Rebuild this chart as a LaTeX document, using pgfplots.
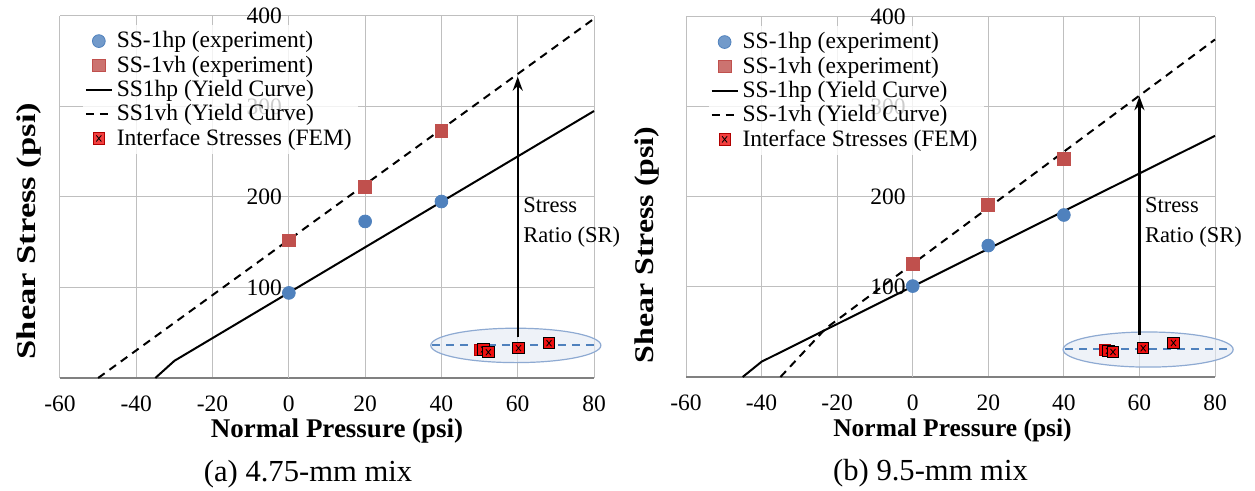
\documentclass[border=0pt]{standalone}
\usepackage{fontspec}
\setmainfont{Liberation Serif}
\usepackage{graphicx}
\usepackage{pgfplots}
\pgfplotsset{compat=1.18}
\usetikzlibrary{arrows.meta}

\definecolor{expblue}{HTML}{4F81BD}
\definecolor{expred}{HTML}{C0504D}
\definecolor{femred}{HTML}{F01010}
\definecolor{femdark}{HTML}{B00000}
\definecolor{ellline}{HTML}{8EAAD2}
\definecolor{ellfill}{HTML}{E2E9F4}
\definecolor{gridgray}{HTML}{BFBFBF}

% red square with a thin black cross (FEM points)
\pgfdeclareplotmark{sqx}{%
  \pgfpathrectangle{\pgfqpoint{-\pgfplotmarksize}{-\pgfplotmarksize}}{\pgfqpoint{2\pgfplotmarksize}{2\pgfplotmarksize}}%
  \pgfusepathqfillstroke
  \pgfsetstrokecolor{black}%
  \pgfsetlinewidth{0.4pt}%
  \pgfpathmoveto{\pgfqpoint{-0.45\pgfplotmarksize}{-0.55\pgfplotmarksize}}%
  \pgfpathlineto{\pgfqpoint{0.45\pgfplotmarksize}{0.55\pgfplotmarksize}}%
  \pgfpathmoveto{\pgfqpoint{-0.45\pgfplotmarksize}{0.55\pgfplotmarksize}}%
  \pgfpathlineto{\pgfqpoint{0.45\pgfplotmarksize}{-0.55\pgfplotmarksize}}%
  \pgfusepathqstroke}

\pgfplotsset{
  panel/.style={
    scale only axis,
    xmin=-60, xmax=80, ymin=0, ymax=400,
    xtick={-60,-40,...,80}, ytick={0,100,...,400},
    axis x line*=bottom, axis y line*=center,
    grid=major,
    major grid style={gridgray, line width=0.5pt},
    x axis line style={gray, line width=0.6pt},
    y axis line style={gridgray, line width=0.5pt},
    major tick length=0pt,
    tick label style={font=\fontsize{11.75}{13}\selectfont},
    /pgf/number format/assume math mode=true,
    xticklabel style={yshift=-5.5pt},
    clip=false,
    legend cell align=left,
    legend style={draw=none, fill=white, fill opacity=0.8, text opacity=1,
      anchor=north west, font=\fontsize{11.75}{13}\selectfont,
      row sep=-1.5pt, inner xsep=1pt, inner ysep=1pt},
  },
  expmark/.style={only marks, mark size=3.2pt},
  yc/.style={black, line width=1pt,
    legend image code/.code={\draw[##1] (0.3cm-6.5pt,0cm) -- (0.3cm+6.5pt,0cm);}},
  ycd/.style={yc, dash pattern=on 4pt off 3pt},
  fem/.style={only marks, mark=sqx, mark size=2.8pt,
    mark options={draw=femdark, fill=femred, line width=0.4pt}},
  femline/.style={forget plot, expblue, line width=0.9pt, dash pattern=on 4pt off 3pt},
  sr/.style={forget plot, black, line width=1.2pt, -{Stealth[length=7pt,width=5pt]}},
}

\begin{document}
\begin{tikzpicture}
% (a) 4.75-mm mix
\begin{axis}[panel, name=A, width=267pt, height=181pt,
    xlabel={\bfseries Normal Pressure (psi)},
    xlabel style={at={(axis description cs:0.5,0)}, anchor=base, yshift=-30pt, xshift=5pt,
      font=\fontsize{13.5}{15}\selectfont},
    legend style={at={(axis description cs:0.042,0.975)}}]
\draw[ellline, line width=0.6pt, fill=ellfill, fill opacity=0.6] (axis cs:59.5,36) ellipse [x radius=22.3, y radius=19];
\addplot[femline] coordinates {(37.5,36.5) (80,36.5)};
\addplot[sr] coordinates {(60,45) (60,333)};
\addplot[expmark, mark=*, expblue] coordinates {(0,94) (20,173) (40,195)};
\addlegendentry{SS-1hp (experiment)}
\addplot[expmark, mark=square*, expred] coordinates {(0,152) (20,211) (40,273)};
\addlegendentry{SS-1vh (experiment)}
\addplot[yc] coordinates {(-35,0) (-30,19) (80,295)};
\addlegendentry{SS1hp (Yield Curve)}
\addplot[ycd] coordinates {(-50,0) (80,397)};
\addlegendentry{SS1vh (Yield Curve)}
\addplot[fem] coordinates {(50,31) (51,31.5) (52.3,28.5) (60.2,33) (68.2,38.5)};
\addlegendentry{Interface Stresses (FEM)}
\node[anchor=west, align=left, font=\fontsize{11.25}{15}\selectfont] at (axis cs:59.6,172) {Stress\\Ratio (SR)};
\node[rotate=90, font=\fontsize{13.5}{15}\selectfont] at (axis description cs:-0.058,0.406)
  {\scalebox{1.28}[1]{\bfseries Shear Stress (psi)}};
\node[anchor=base, font=\fontsize{15.3}{17}\selectfont] at (axis description cs:0.5,0)
  [yshift=-52pt, xshift=-9.5pt] {(a) 4.75-mm mix};
\end{axis}

% (b) 9.5-mm mix
\begin{axis}[panel, xshift=313pt, yshift=0.5pt, width=264.5pt, height=180pt,
    xlabel={\bfseries Normal Pressure (psi)},
    xlabel style={at={(axis description cs:0.5,0)}, anchor=base, yshift=-30pt, xshift=1pt,
      font=\fontsize{12.75}{15}\selectfont},
    legend style={at={(axis description cs:0.042,0.975)}}]
\draw[ellline, line width=0.6pt, fill=ellfill, fill opacity=0.6] (axis cs:62.3,30.5) ellipse [x radius=22.5, y radius=19.5];
\addplot[femline] coordinates {(40.3,31) (84,31)};
\addplot[sr] coordinates {(60,47) (60,312)};
\addplot[expmark, mark=*, expblue] coordinates {(0,101) (20,146) (40,180)};
\addlegendentry{SS-1hp (experiment)}
\addplot[expmark, mark=square*, expred] coordinates {(0,126) (20,191) (40,242)};
\addlegendentry{SS-1vh (experiment)}
\addplot[yc] coordinates {(-45,0) (-40,17) (80,268)};
\addlegendentry{SS-1hp (Yield Curve)}
\addplot[ycd] coordinates {(-35,0) (-23,54) (80,375)};
\addlegendentry{SS-1vh (Yield Curve)}
\addplot[fem] coordinates {(50.9,30) (51.8,29) (53,27.8) (61,32) (69,37.8)};
\addlegendentry{Interface Stresses (FEM)}
\node[anchor=west, align=left, font=\fontsize{11.25}{15}\selectfont] at (axis cs:59.6,172) {Stress\\Ratio (SR)};
\node[rotate=90, font=\fontsize{13.5}{15}\selectfont] at (axis description cs:-0.0737,0.367)
  {\scalebox{1.18}[1]{\bfseries Shear Stress (psi)}};
\node[anchor=base, font=\fontsize{15.3}{17}\selectfont] at (axis description cs:0.5,0)
  [yshift=-52pt, xshift=-10pt] {(b) 9.5-mm mix};
\end{axis}

\pgfresetboundingbox
\path (A.south west) ++(-30pt,-56.5pt) rectangle ++(627.5pt,245.5pt);
\end{tikzpicture}
\end{document}
